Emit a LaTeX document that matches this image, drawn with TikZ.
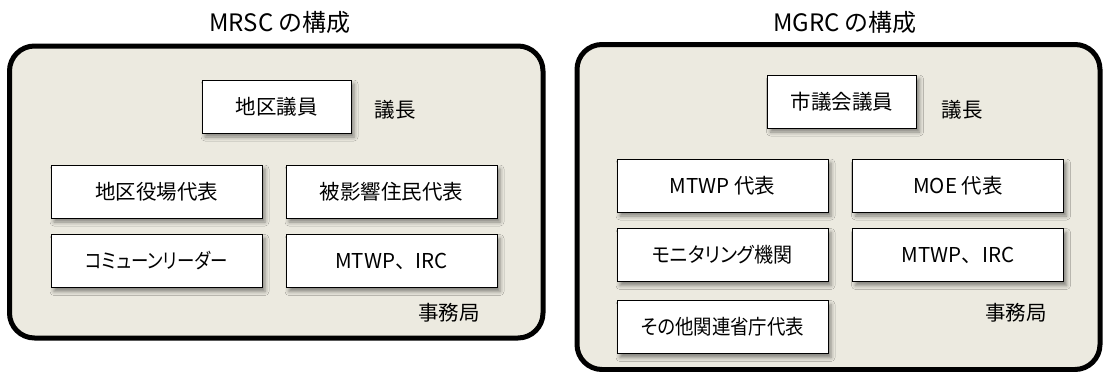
\documentclass[tikz,border=0pt]{standalone}
\usepackage{fontspec}
\usepackage{graphicx}
\setmainfont{Noto Sans CJK JP}
\usetikzlibrary{shadows.blur}
\definecolor{panelfill}{RGB}{236,234,224}
\tikzset{
  panel/.style={draw=black, line width=5pt, rounded corners=25pt, fill=panelfill},
  member/.style={draw=black, line width=1pt, fill=white, minimum width=211pt, minimum height=53pt, inner sep=0pt, font=\fontsize{20.5}{23}\selectfont,
    blur shadow={shadow xshift=3pt, shadow yshift=-4pt, shadow blur radius=4pt, shadow opacity=45}},
  chair/.style={member, minimum width=149pt},
  lbl/.style={inner sep=0pt, font=\fontsize{20.5}{23}\selectfont},
  ttl/.style={inner sep=0pt, font=\fontsize{24}{27}\selectfont},
}
\newcommand{\prop}{\addfontfeature{RawFeature=+palt}}
\begin{document}
\begin{tikzpicture}[x=1pt,y=-1pt]
\useasboundingbox (0,0) rectangle (1103,372);
% left panel
\node[ttl] (t1) at (280,22) {MRSC の構成};
\draw[panel] (9.5,46) rectangle (543,338);
\node[chair] (a0) at (276.5,106.5) {地区議員};
\node[lbl] (a0l) at (395,110) {議長};
\node[member] (a1) at (156.5,191.5) {地区役場代表};
\node[member] (a2) at (391.5,191.5) {被影響住民代表};
\node[member] (a3) at (156.5,261) {\scalebox{0.85}[1]{\prop コミューンリーダー}};
\node[member] (a4) at (391.5,261) {MTWP、IRC};
\node[lbl] (a5) at (449,313) {事務局};
% right panel
\node[ttl] (t2) at (845,22) {MGRC の構成};
\draw[panel] (577,44.5) rectangle (1100,369.5);
\node[chair] (b0) at (842,101.5) {市議会議員};
\node[lbl] (b0l) at (962,110) {議長};
\node[member] (b1) at (722.5,185.5) {MTWP 代表};
\node[member] (b2) at (958,185.5) {MOE 代表};
\node[member] (b3) at (722.5,255) {\scalebox{0.93}[1]{\prop モニタリング機関}};
\node[member] (b4) at (958,255) {MTWP、IRC};
\node[member] (b5) at (722.5,327) {\scalebox{0.9}[1]{\prop その他関連省庁代表}};
\node[lbl] (b6) at (1016,313) {事務局};
\end{tikzpicture}
\end{document}
